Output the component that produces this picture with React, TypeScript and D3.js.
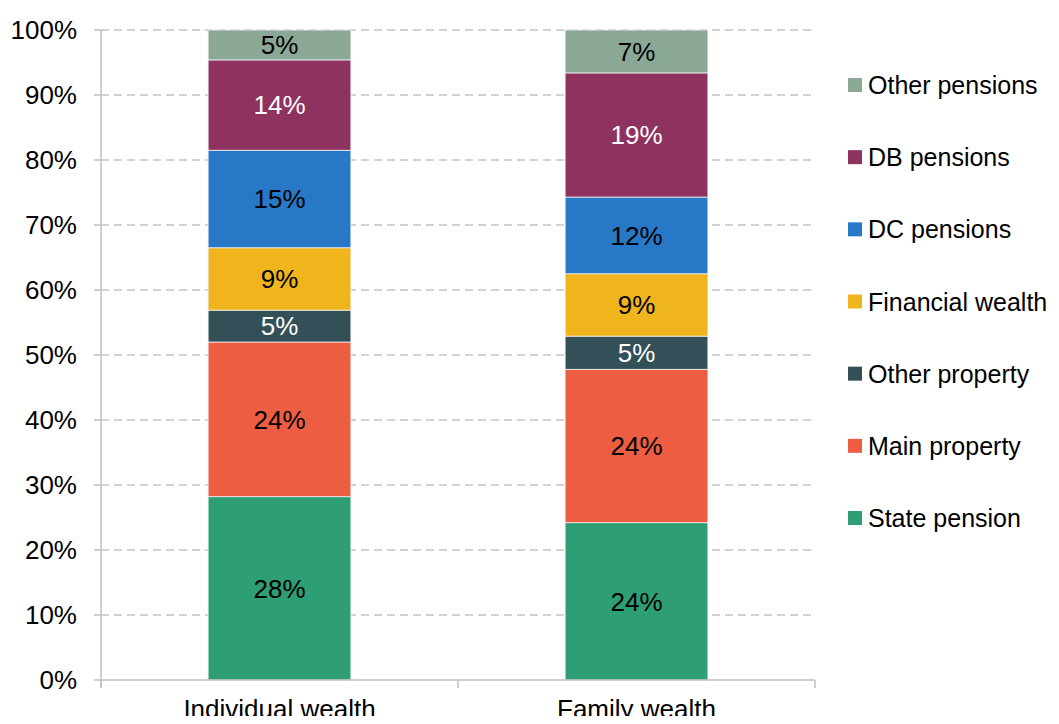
import * as d3 from "d3";
import React, { useEffect, useRef } from "react";

const categories = ["Individual wealth", "Family wealth"];
const seriesNames = [
  "State pension",
  "Main property",
  "Other property",
  "Financial wealth",
  "DC pensions",
  "DB pensions",
  "Other pensions",
];
const individualValues = [28.2, 23.8, 4.9, 9.6, 15.0, 13.9, 4.6];
const familyValues = [24.2, 23.6, 5.1, 9.6, 11.8, 19.1, 6.6];
const labelsIndividual = ["28%", "24%", "5%", "9%", "15%", "14%", "5%"];
const labelsFamily = ["24%", "24%", "5%", "9%", "12%", "19%", "7%"];
const colors = ["#2e9e75", "#ec5d42", "#334f57", "#f0b41c", "#2878c8", "#8e3360", "#8ba896"];
const labelColors = ["#000", "#000", "#fff", "#000", "#000", "#fff", "#000"];
const yTicks = [0, 10, 20, 30, 40, 50, 60, 70, 80, 90, 100];

const App = () => {
  const svgRef = useRef<SVGSVGElement>(null);

  useEffect(() => {
    if (!svgRef.current) return;
    const svg = d3.select(svgRef.current);
    svg.selectAll("*").remove();

    const font = "'Liberation Sans', Arial, sans-serif";
    const fs = "26px";
    const left = 101;
    const right = 815;
    const top = 30;
    const bottom = 680;

    const x = d3
      .scaleBand()
      .domain(categories)
      .range([left, right])
      .paddingInner(0.6)
      .paddingOuter(0.3);
    const y = d3.scaleLinear().domain([0, 100]).range([bottom, top]);

    const rows = categories.map((c, i) => {
      const vals = i === 0 ? individualValues : familyValues;
      const row: any = { category: c };
      seriesNames.forEach((s, j) => (row[s] = vals[j]));
      return row;
    });
    const stacked = d3.stack().keys(seriesNames)(rows);

    // gridlines
    svg
      .append("g")
      .selectAll("line")
      .data(yTicks.filter((d) => d > 0))
      .enter()
      .append("line")
      .attr("x1", left)
      .attr("x2", right)
      .attr("y1", (d) => y(d))
      .attr("y2", (d) => y(d))
      .attr("stroke", "#c4c4c4")
      .attr("stroke-width", 1.5)
      .attr("stroke-dasharray", "8,5");

    // bars
    stacked.forEach((layer, si) => {
      const g = svg.append("g");
      g.selectAll("rect")
        .data(layer)
        .enter()
        .append("rect")
        .attr("x", (d: any) => x(d.data.category)!)
        .attr("width", x.bandwidth())
        .attr("y", (d) => y(d[1]))
        .attr("height", (d) => y(d[0]) - y(d[1]))
        .attr("fill", colors[si])
        .attr("stroke", "#f2f2f2")
        .attr("stroke-width", 0.8);
      g.selectAll("text")
        .data(layer)
        .enter()
        .append("text")
        .attr("x", (d: any) => x(d.data.category)! + x.bandwidth() / 2)
        .attr("y", (d) => (y(d[0]) + y(d[1])) / 2)
        .attr("dy", "0.36em")
        .attr("text-anchor", "middle")
        .style("font-family", font)
        .style("font-size", fs)
        .style("fill", labelColors[si])
        .text((d: any, i) => (i === 0 ? labelsIndividual[si] : labelsFamily[si]));
    });

    // y axis
    const axisColor = "#bfbfbf";
    svg
      .append("line")
      .attr("x1", left)
      .attr("x2", left)
      .attr("y1", top)
      .attr("y2", bottom + 7)
      .attr("stroke", axisColor)
      .attr("stroke-width", 1.5);
    svg
      .append("g")
      .selectAll("line")
      .data(yTicks)
      .enter()
      .append("line")
      .attr("x1", left - 7)
      .attr("x2", left)
      .attr("y1", (d) => y(d))
      .attr("y2", (d) => y(d))
      .attr("stroke", axisColor)
      .attr("stroke-width", 1.5);
    svg
      .append("g")
      .selectAll("text")
      .data(yTicks)
      .enter()
      .append("text")
      .attr("x", 77)
      .attr("y", (d) => y(d))
      .attr("dy", "0.36em")
      .attr("text-anchor", "end")
      .style("font-family", font)
      .style("font-size", fs)
      .style("fill", "#000")
      .text((d) => `${d}%`);

    // x axis
    svg
      .append("line")
      .attr("x1", left)
      .attr("x2", right)
      .attr("y1", bottom)
      .attr("y2", bottom)
      .attr("stroke", axisColor)
      .attr("stroke-width", 1.5);
    const step = x.step();
    const boundaries = [left, left + step, left + 2 * step];
    svg
      .append("g")
      .selectAll("line")
      .data(boundaries)
      .enter()
      .append("line")
      .attr("x1", (d) => d)
      .attr("x2", (d) => d)
      .attr("y1", bottom)
      .attr("y2", bottom + 8)
      .attr("stroke", axisColor)
      .attr("stroke-width", 1.5);
    svg
      .append("g")
      .selectAll("text")
      .data(categories)
      .enter()
      .append("text")
      .attr("x", (d) => x(d)! + x.bandwidth() / 2)
      .attr("y", 718)
      .attr("text-anchor", "middle")
      .style("font-family", font)
      .style("font-size", fs)
      .style("fill", "#000")
      .text((d) => d);

    // legend
    const legendItems = seriesNames.slice().reverse();
    const legendColors = colors.slice().reverse();
    const ly = d3.scalePoint().domain(legendItems).range([85, 518]);
    const lg = svg.append("g");
    legendItems.forEach((name, i) => {
      lg.append("rect")
        .attr("x", 848)
        .attr("y", ly(name)! - 7)
        .attr("width", 14)
        .attr("height", 14)
        .attr("fill", legendColors[i]);
      lg.append("text")
        .attr("x", 868)
        .attr("y", ly(name)!)
        .attr("dy", "0.36em")
        .style("font-family", font)
        .style("font-size", "25px")
        .style("fill", "#000")
        .text(name);
    });
  }, []);

  return (
    <div style={{ margin: -8, width: 1059, height: 724, background: "#fff", overflow: "hidden" }}>
      <svg ref={svgRef} width={1059} height={724} style={{ display: "block" }} />
    </div>
  );
};

export default App;
